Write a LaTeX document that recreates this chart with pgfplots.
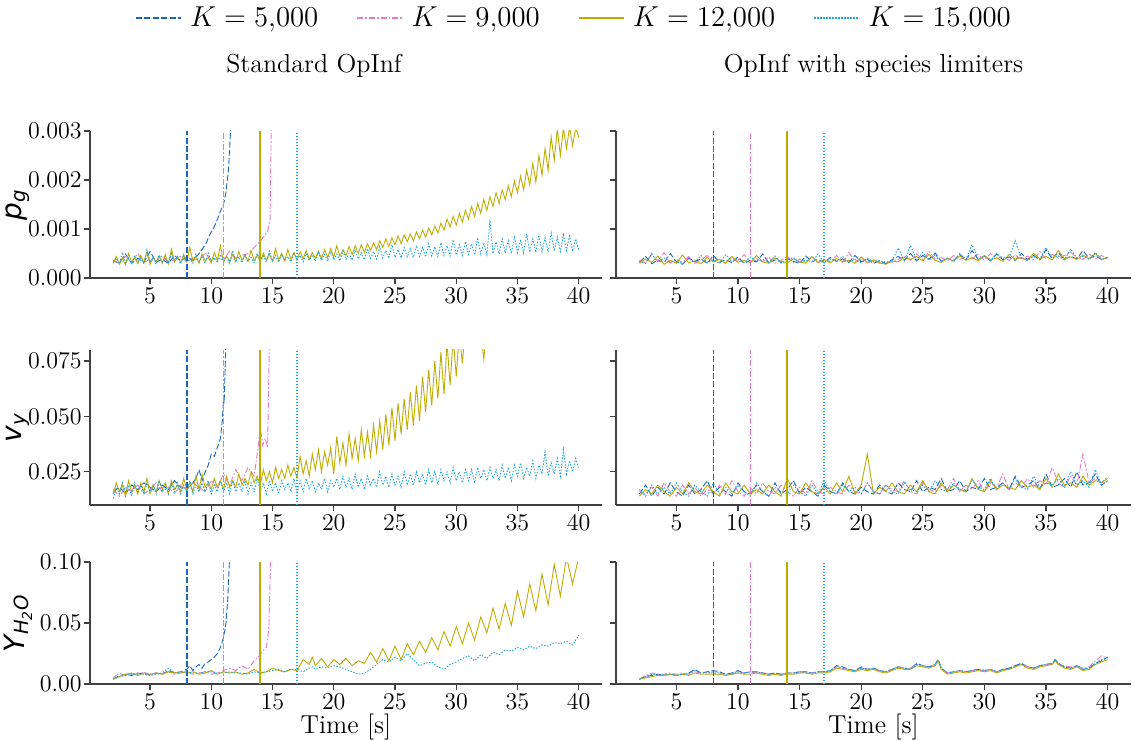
\documentclass[border=0pt]{standalone}
\usepackage{pgfplots}
\pgfplotsset{compat=1.18}
\usepackage{pgfplotstable}
\usepackage{fontspec}
\newfontfamily\dejavu{DejaVu Sans}

\definecolor{cblue}{HTML}{1A66BF}
\definecolor{cpink}{HTML}{E87AC6}
\definecolor{colive}{HTML}{BFAC00}
\definecolor{ccyan}{HTML}{1AA6D6}

% ---- p_g, standard OpInf (o = K 12000, c = K 15000)
\pgfplotstableread{
t o c
2.00 3.0e-4 3.2e-4
2.25 4.4e-4 4.0e-4
2.50 2.8e-4 2.9e-4
2.75 4.0e-4 5.2e-4
3.00 2.7e-4 3.1e-4
3.25 5.0e-4 4.1e-4
3.50 3.2e-4 2.8e-4
3.75 4.1e-4 4.6e-4
4.00 2.9e-4 3.3e-4
4.25 4.6e-4 4.0e-4
4.50 3.1e-4 2.9e-4
4.75 5.4e-4 5.8e-4
5.00 2.8e-4 3.2e-4
5.25 4.2e-4 4.3e-4
5.50 3.3e-4 2.8e-4
5.75 4.5e-4 4.7e-4
6.00 3.0e-4 3.3e-4
6.25 4.8e-4 4.1e-4
6.50 2.9e-4 3.0e-4
6.75 5.9e-4 5.0e-4
7.00 3.3e-4 3.4e-4
7.25 4.3e-4 4.4e-4
7.50 3.1e-4 2.9e-4
7.75 4.6e-4 4.8e-4
8.00 3.2e-4 3.3e-4
8.25 6.3e-4 4.0e-4
8.50 3.4e-4 3.0e-4
8.75 4.4e-4 4.9e-4
9.00 3.0e-4 3.3e-4
9.25 4.9e-4 4.3e-4
9.50 3.5e-4 3.0e-4
9.75 4.2e-4 5.1e-4
10.00 3.1e-4 3.4e-4
10.25 5.2e-4 4.2e-4
10.50 3.6e-4 3.1e-4
10.75 6.6e-4 4.8e-4
11.00 3.2e-4 3.5e-4
11.25 4.5e-4 4.4e-4
11.50 3.4e-4 3.0e-4
11.75 4.8e-4 5.6e-4
12.00 3.3e-4 3.3e-4
12.25 5.4e-4 4.3e-4
12.50 3.6e-4 3.1e-4
12.75 4.6e-4 4.9e-4
13.00 3.4e-4 3.4e-4
13.25 5.6e-4 4.2e-4
13.50 3.5e-4 3.1e-4
13.75 4.7e-4 5.0e-4
14.00 3.3e-4 3.5e-4
14.25 5.1e-4 4.5e-4
14.50 3.6e-4 3.2e-4
14.75 4.9e-4 5.5e-4
15.00 3.4e-4 3.4e-4
15.25 6.0e-4 4.6e-4
15.50 3.7e-4 3.2e-4
15.75 5.0e-4 4.8e-4
16.00 3.5e-4 3.5e-4
16.25 5.8e-4 4.4e-4
16.50 3.8e-4 3.3e-4
16.75 5.2e-4 5.2e-4
17.00 3.6e-4 3.6e-4
17.25 5.4e-4 4.6e-4
17.50 3.9e-4 3.3e-4
17.75 5.6e-4 5.0e-4
18.00 3.8e-4 3.6e-4
18.25 5.2e-4 4.7e-4
18.50 4.0e-4 3.4e-4
18.75 5.5e-4 5.2e-4
19.00 3.9e-4 3.6e-4
19.25 5.8e-4 4.8e-4
19.50 4.1e-4 3.4e-4
19.75 6.0e-4 5.4e-4
20.00 4.2e-4 3.7e-4
20.25 6.6e-4 4.9e-4
20.50 4.4e-4 3.5e-4
20.75 5.8e-4 5.5e-4
21.00 4.6e-4 3.8e-4
21.25 6.4e-4 5.0e-4
21.50 4.8e-4 3.6e-4
21.75 6.6e-4 5.8e-4
22.00 5.0e-4 3.9e-4
22.25 6.8e-4 5.2e-4
22.50 5.2e-4 3.7e-4
22.75 7.0e-4 6.0e-4
23.00 5.6e-4 4.0e-4
23.25 7.2e-4 5.4e-4
23.50 5.8e-4 3.9e-4
23.75 7.6e-4 6.4e-4
24.00 6.2e-4 4.1e-4
24.25 8.0e-4 5.6e-4
24.50 6.4e-4 4.0e-4
24.75 8.2e-4 6.8e-4
25.00 6.8e-4 4.2e-4
25.25 8.6e-4 5.8e-4
25.50 7.0e-4 4.1e-4
25.75 8.8e-4 6.2e-4
26.00 7.4e-4 4.3e-4
26.25 9.0e-4 6.0e-4
26.50 7.6e-4 4.2e-4
26.75 9.4e-4 6.6e-4
27.00 8.0e-4 4.4e-4
27.25 9.8e-4 6.2e-4
27.50 8.3e-4 4.3e-4
27.75 10.2e-4 7.0e-4
28.00 8.8e-4 4.5e-4
28.25 10.6e-4 6.4e-4
28.50 9.2e-4 4.4e-4
28.75 11.2e-4 7.2e-4
29.00 9.8e-4 4.6e-4
29.25 12.0e-4 6.6e-4
29.50 10.4e-4 4.5e-4
29.75 12.6e-4 7.8e-4
30.00 10.8e-4 4.7e-4
30.25 13.2e-4 6.8e-4
30.50 11.4e-4 4.6e-4
30.75 13.8e-4 7.4e-4
31.00 12.0e-4 4.8e-4
31.25 14.6e-4 7.0e-4
31.50 12.6e-4 4.7e-4
31.75 15.2e-4 8.2e-4
32.00 13.2e-4 4.9e-4
32.25 16.0e-4 7.2e-4
32.50 13.8e-4 4.8e-4
32.75 16.6e-4 11.8e-4
33.00 14.6e-4 5.0e-4
33.25 17.4e-4 7.4e-4
33.50 15.2e-4 4.9e-4
33.75 18.0e-4 8.0e-4
34.00 16.0e-4 5.1e-4
34.25 18.8e-4 7.6e-4
34.50 16.6e-4 5.0e-4
34.75 19.8e-4 8.6e-4
35.00 17.4e-4 5.2e-4
35.25 20.8e-4 7.8e-4
35.50 18.0e-4 5.1e-4
35.75 22.0e-4 9.0e-4
36.00 19.0e-4 5.3e-4
36.25 23.4e-4 8.0e-4
36.50 19.6e-4 5.2e-4
36.75 25.0e-4 8.8e-4
37.00 21.0e-4 5.4e-4
37.25 26.4e-4 8.2e-4
37.50 22.0e-4 5.3e-4
37.75 28.8e-4 9.2e-4
38.00 24.0e-4 5.5e-4
38.25 30.4e-4 8.4e-4
38.50 25.0e-4 5.4e-4
38.75 30.6e-4 8.8e-4
39.00 26.4e-4 5.6e-4
39.25 30.8e-4 8.6e-4
39.50 27.0e-4 5.5e-4
39.75 30.6e-4 8.0e-4
40.00 28.8e-4 5.7e-4
}\pgA
\pgfplotstableread{
t y
2.0 3.4e-4
2.5 3.1e-4
3.0 4.9e-4
3.5 3.0e-4
4.0 4.0e-4
4.5 3.2e-4
5.0 5.4e-4
5.5 3.3e-4
6.0 3.8e-4
6.5 3.0e-4
7.0 4.6e-4
7.5 3.5e-4
8.0 4.2e-4
8.5 3.6e-4
9.0 5.0e-4
9.3 6.0e-4
9.6 7.2e-4
9.9 9.0e-4
10.2 10.2e-4
10.5 12.0e-4
10.8 14.0e-4
11.0 15.0e-4
11.2 17.5e-4
11.4 22.0e-4
11.6 31.0e-4
}\pgB
\pgfplotstableread{
t y
2.0 3.6e-4
2.5 3.0e-4
3.0 4.4e-4
3.5 3.3e-4
4.0 5.0e-4
4.5 3.1e-4
5.0 3.9e-4
5.5 3.4e-4
6.0 4.6e-4
6.5 3.2e-4
7.0 3.8e-4
7.5 4.4e-4
8.0 3.3e-4
8.5 4.1e-4
9.0 3.5e-4
9.5 5.2e-4
10.0 3.6e-4
10.5 4.0e-4
11.0 3.7e-4
11.5 5.5e-4
12.0 4.0e-4
12.5 4.6e-4
13.0 5.0e-4
13.5 6.2e-4
14.0 7.5e-4
14.3 8.5e-4
14.6 9.5e-4
14.8 12.0e-4
14.9 31.0e-4
}\pgP
% ---- p_g, species limiters (a=5000, b=9000, c=12000, d=15000)
\pgfplotstableread{
t a b c d
2.0 3.2e-4 3.6e-4 3.0e-4 3.4e-4
2.5 4.4e-4 3.1e-4 3.9e-4 3.0e-4
3.0 2.9e-4 4.8e-4 3.2e-4 5.0e-4
3.5 3.7e-4 3.3e-4 4.5e-4 3.2e-4
4.0 3.1e-4 5.2e-4 2.8e-4 4.1e-4
4.5 5.0e-4 3.0e-4 3.6e-4 3.3e-4
5.0 3.3e-4 3.8e-4 3.0e-4 3.6e-4
5.5 2.8e-4 3.2e-4 4.7e-4 2.9e-4
6.0 4.1e-4 4.4e-4 3.1e-4 3.9e-4
6.5 3.4e-4 3.0e-4 3.5e-4 3.2e-4
7.0 3.9e-4 3.7e-4 2.9e-4 4.6e-4
7.5 3.0e-4 4.6e-4 4.2e-4 3.1e-4
8.0 4.6e-4 3.3e-4 3.3e-4 3.7e-4
8.5 3.2e-4 3.6e-4 3.8e-4 3.0e-4
9.0 3.8e-4 3.1e-4 3.0e-4 4.8e-4
9.5 3.1e-4 4.0e-4 4.4e-4 3.3e-4
10.0 4.3e-4 3.4e-4 3.2e-4 3.9e-4
10.5 3.0e-4 4.8e-4 3.6e-4 3.1e-4
11.0 3.6e-4 3.2e-4 3.1e-4 4.3e-4
11.5 3.3e-4 3.9e-4 4.6e-4 3.4e-4
12.0 4.9e-4 3.3e-4 3.3e-4 3.8e-4
12.5 3.1e-4 4.2e-4 3.0e-4 3.2e-4
13.0 3.7e-4 3.0e-4 4.1e-4 4.5e-4
13.5 3.2e-4 3.6e-4 3.4e-4 3.0e-4
14.0 4.0e-4 4.5e-4 3.1e-4 3.6e-4
14.5 3.4e-4 3.1e-4 3.9e-4 4.2e-4
15.0 3.0e-4 3.8e-4 3.3e-4 3.1e-4
15.5 4.5e-4 3.2e-4 3.0e-4 3.7e-4
16.0 3.3e-4 4.3e-4 4.4e-4 3.3e-4
16.5 3.8e-4 3.1e-4 3.2e-4 4.9e-4
17.0 3.1e-4 3.7e-4 3.7e-4 3.2e-4
17.5 4.2e-4 3.3e-4 3.1e-4 3.9e-4
18.0 3.4e-4 4.6e-4 4.0e-4 3.4e-4
18.5 3.9e-4 3.2e-4 3.3e-4 4.4e-4
19.0 3.2e-4 5.2e-4 3.6e-4 3.2e-4
19.5 4.6e-4 3.4e-4 3.0e-4 3.8e-4
20.0 3.3e-4 3.9e-4 4.3e-4 3.1e-4
20.5 3.8e-4 3.1e-4 3.2e-4 4.0e-4
21.0 3.0e-4 3.6e-4 3.7e-4 3.3e-4
21.5 3.5e-4 3.0e-4 3.1e-4 3.6e-4
22.0 2.9e-4 3.4e-4 2.8e-4 3.0e-4
22.5 3.7e-4 3.2e-4 3.5e-4 3.4e-4
23.0 4.4e-4 3.8e-4 3.3e-4 6.1e-4
23.5 3.6e-4 4.5e-4 4.2e-4 3.5e-4
24.0 5.0e-4 3.6e-4 3.8e-4 6.6e-4
24.5 3.5e-4 4.9e-4 4.4e-4 3.7e-4
25.0 4.6e-4 3.7e-4 3.5e-4 5.2e-4
25.5 3.8e-4 5.4e-4 4.8e-4 3.6e-4
26.0 5.1e-4 3.9e-4 3.6e-4 4.7e-4
26.5 3.4e-4 4.2e-4 3.2e-4 3.5e-4
27.0 4.0e-4 3.5e-4 4.0e-4 4.1e-4
27.5 3.6e-4 4.6e-4 3.5e-4 3.3e-4
28.0 4.8e-4 3.8e-4 4.5e-4 5.0e-4
28.5 3.7e-4 4.3e-4 3.6e-4 3.8e-4
29.0 5.6e-4 3.9e-4 4.2e-4 6.8e-4
29.5 3.8e-4 4.8e-4 3.5e-4 3.9e-4
30.0 4.5e-4 3.6e-4 4.6e-4 4.4e-4
30.5 3.5e-4 5.0e-4 3.7e-4 3.6e-4
31.0 4.9e-4 3.9e-4 4.1e-4 5.0e-4
31.5 3.7e-4 4.4e-4 3.4e-4 3.9e-4
32.0 4.3e-4 3.6e-4 4.8e-4 4.2e-4
32.5 3.6e-4 4.7e-4 3.8e-4 7.6e-4
33.0 5.0e-4 3.8e-4 4.2e-4 4.0e-4
33.5 3.8e-4 4.5e-4 3.6e-4 3.6e-4
34.0 4.6e-4 3.7e-4 5.0e-4 4.4e-4
34.5 3.7e-4 5.4e-4 3.9e-4 3.8e-4
35.0 5.8e-4 3.9e-4 4.4e-4 6.2e-4
35.5 3.9e-4 4.8e-4 3.7e-4 4.0e-4
36.0 5.2e-4 4.0e-4 5.6e-4 4.5e-4
36.5 3.8e-4 4.6e-4 3.9e-4 3.7e-4
37.0 4.4e-4 5.3e-4 4.3e-4 5.9e-4
37.5 3.9e-4 4.1e-4 3.8e-4 4.1e-4
38.0 5.6e-4 3.8e-4 4.7e-4 4.4e-4
38.5 4.0e-4 4.9e-4 3.9e-4 3.8e-4
39.0 4.5e-4 3.9e-4 5.0e-4 5.2e-4
39.5 3.8e-4 4.6e-4 3.7e-4 3.9e-4
40.0 4.2e-4 4.0e-4 4.3e-4 3.9e-4
}\pgR

% ---- v_y, standard OpInf
\pgfplotstableread{
t o c
2.00 0.015 0.013
2.25 0.020 0.018
2.50 0.016 0.015
2.75 0.019 0.020
3.00 0.014 0.016
3.25 0.021 0.019
3.50 0.016 0.014
3.75 0.019 0.020
4.00 0.015 0.016
4.25 0.020 0.019
4.50 0.016 0.015
4.75 0.022 0.020
5.00 0.015 0.016
5.25 0.019 0.019
5.50 0.016 0.015
5.75 0.021 0.021
6.00 0.017 0.016
6.25 0.020 0.019
6.50 0.015 0.015
6.75 0.021 0.020
7.00 0.017 0.016
7.25 0.019 0.020
7.50 0.016 0.015
7.75 0.022 0.019
8.00 0.017 0.016
8.25 0.020 0.021
8.50 0.016 0.015
8.75 0.023 0.019
9.00 0.017 0.016
9.25 0.024 0.020
9.50 0.018 0.016
9.75 0.020 0.021
10.00 0.017 0.015
10.25 0.022 0.019
10.50 0.018 0.016
10.75 0.021 0.021
11.00 0.017 0.016
11.25 0.023 0.020
11.50 0.018 0.015
11.75 0.021 0.021
12.00 0.018 0.016
12.25 0.024 0.020
12.50 0.019 0.016
12.75 0.022 0.021
13.00 0.019 0.015
13.25 0.025 0.020
13.50 0.020 0.016
13.75 0.023 0.022
14.00 0.019 0.016
14.25 0.026 0.020
14.50 0.021 0.015
14.75 0.025 0.021
15.00 0.020 0.016
15.25 0.027 0.020
15.50 0.022 0.015
15.75 0.026 0.021
16.00 0.022 0.017
16.25 0.028 0.020
16.50 0.023 0.016
16.75 0.027 0.022
17.00 0.022 0.015
17.25 0.032 0.021
17.50 0.024 0.016
17.75 0.030 0.022
18.00 0.023 0.017
18.25 0.033 0.021
18.50 0.026 0.016
18.75 0.035 0.020
19.00 0.025 0.017
19.25 0.034 0.022
19.50 0.028 0.016
19.75 0.036 0.021
20.00 0.024 0.018
20.25 0.041 0.022
20.50 0.029 0.017
20.75 0.038 0.023
21.00 0.028 0.018
21.25 0.042 0.022
21.50 0.031 0.017
21.75 0.040 0.024
22.00 0.030 0.018
22.25 0.044 0.022
22.50 0.032 0.017
22.75 0.043 0.023
23.00 0.032 0.019
23.25 0.046 0.022
23.50 0.034 0.018
23.75 0.048 0.025
24.00 0.035 0.019
24.25 0.051 0.023
24.50 0.037 0.018
24.75 0.054 0.024
25.00 0.039 0.019
25.25 0.056 0.023
25.50 0.042 0.018
25.75 0.058 0.025
26.00 0.044 0.019
26.25 0.061 0.024
26.50 0.046 0.019
26.75 0.064 0.025
27.00 0.048 0.020
27.25 0.068 0.024
27.50 0.052 0.019
27.75 0.071 0.026
28.00 0.055 0.020
28.25 0.075 0.025
28.50 0.058 0.019
28.75 0.079 0.026
29.00 0.060 0.021
29.25 0.083 0.025
29.50 0.064 0.020
29.75 0.086 0.027
30.00 0.068 0.021
30.25 0.088 0.025
30.50 0.074 0.020
30.75 0.090 0.026
31.00 0.084 0.021
31.25 0.090 0.026
31.50 0.086 0.020
31.75 0.090 0.027
32.00 0.088 0.022
32.25 0.076 0.026
32.50 0.090 0.021
32.75 0.090 0.027
33.00 0.090 0.022
33.25 0.090 0.026
33.50 0.090 0.021
33.75 0.090 0.028
34.00 0.090 0.022
34.25 0.090 0.027
34.50 0.090 0.021
34.75 0.090 0.028
35.00 0.090 0.023
35.25 0.090 0.029
35.50 0.090 0.022
35.75 0.090 0.027
36.00 0.090 0.023
36.25 0.090 0.030
36.50 0.090 0.022
36.75 0.090 0.028
37.00 0.090 0.024
37.25 0.090 0.034
37.50 0.090 0.023
37.75 0.090 0.029
38.00 0.090 0.024
38.25 0.090 0.031
38.50 0.090 0.023
38.75 0.090 0.035
39.00 0.090 0.024
39.25 0.090 0.030
39.50 0.090 0.025
39.75 0.090 0.031
40.00 0.090 0.026
}\vyA
\pgfplotstableread{
t y
2.0 0.016
2.5 0.018
3.0 0.015
3.5 0.019
4.0 0.017
4.5 0.020
5.0 0.018
5.5 0.016
6.0 0.019
6.5 0.017
7.0 0.021
7.5 0.018
8.0 0.017
8.5 0.020
8.75 0.022
9.0 0.026
9.25 0.021
9.5 0.025
9.75 0.028
10.0 0.033
10.25 0.032
10.5 0.036
10.75 0.040
10.9 0.048
11.0 0.058
11.05 0.056
11.2 0.085
}\vyB
\pgfplotstableread{
t y
2.0 0.017
2.5 0.014
3.0 0.018
3.5 0.016
4.0 0.019
4.5 0.015
5.0 0.017
5.5 0.020
6.0 0.016
6.5 0.018
7.0 0.015
7.5 0.019
8.0 0.017
8.5 0.020
9.0 0.018
9.5 0.016
10.0 0.021
10.5 0.018
11.0 0.024
11.5 0.019
12.0 0.026
12.5 0.021
13.0 0.027
13.5 0.023
13.8 0.035
14.0 0.045
14.2 0.037
14.4 0.040
14.6 0.036
14.75 0.085
}\vyP
% ---- v_y, species limiters
\pgfplotstableread{
t a b c d
2.0 0.015 0.016 0.014 0.017
2.5 0.019 0.015 0.017 0.014
3.0 0.014 0.018 0.015 0.019
3.5 0.018 0.014 0.019 0.015
4.0 0.015 0.020 0.016 0.018
4.5 0.020 0.016 0.014 0.015
5.0 0.016 0.014 0.018 0.020
5.5 0.014 0.019 0.015 0.016
6.0 0.019 0.015 0.020 0.014
6.5 0.015 0.018 0.016 0.019
7.0 0.017 0.014 0.015 0.016
7.5 0.021 0.017 0.019 0.014
8.0 0.015 0.015 0.016 0.020
8.5 0.018 0.019 0.014 0.015
9.0 0.016 0.015 0.020 0.018
9.5 0.014 0.021 0.016 0.015
10.0 0.020 0.016 0.015 0.019
10.5 0.016 0.014 0.019 0.016
11.0 0.015 0.018 0.015 0.014
11.5 0.019 0.015 0.017 0.020
12.0 0.016 0.020 0.015 0.016
12.5 0.014 0.016 0.019 0.014
13.0 0.020 0.015 0.016 0.018
13.5 0.015 0.019 0.014 0.016
14.0 0.017 0.016 0.022 0.015
14.5 0.021 0.014 0.016 0.019
15.0 0.015 0.018 0.015 0.016
15.5 0.018 0.015 0.020 0.014
16.0 0.016 0.021 0.016 0.019
16.5 0.014 0.016 0.015 0.015
17.0 0.019 0.015 0.018 0.021
17.5 0.016 0.018 0.015 0.016
18.0 0.015 0.016 0.020 0.015
18.5 0.020 0.015 0.016 0.019
19.0 0.016 0.019 0.023 0.016
19.5 0.015 0.016 0.015 0.018
20.0 0.018 0.015 0.019 0.015
20.5 0.016 0.020 0.033 0.020
21.0 0.015 0.016 0.015 0.016
21.5 0.019 0.015 0.018 0.015
22.0 0.016 0.019 0.016 0.019
22.5 0.015 0.017 0.020 0.016
23.0 0.020 0.016 0.016 0.015
23.5 0.017 0.021 0.015 0.020
24.0 0.016 0.016 0.019 0.017
24.5 0.021 0.015 0.016 0.016
25.0 0.016 0.020 0.021 0.019
25.5 0.018 0.017 0.016 0.016
26.0 0.017 0.016 0.015 0.021
26.5 0.022 0.019 0.020 0.017
27.0 0.016 0.017 0.016 0.016
27.5 0.017 0.022 0.019 0.020
28.0 0.021 0.016 0.017 0.017
28.5 0.016 0.019 0.016 0.016
29.0 0.018 0.017 0.022 0.021
29.5 0.017 0.021 0.017 0.018
30.0 0.022 0.016 0.016 0.017
30.5 0.017 0.020 0.021 0.022
31.0 0.018 0.018 0.017 0.017
31.5 0.020 0.024 0.019 0.020
32.0 0.017 0.017 0.018 0.017
32.5 0.023 0.020 0.017 0.022
33.0 0.018 0.018 0.021 0.018
33.5 0.019 0.022 0.018 0.017
34.0 0.021 0.018 0.019 0.023
34.5 0.017 0.021 0.017 0.018
35.0 0.024 0.019 0.022 0.020
35.5 0.018 0.027 0.018 0.019
36.0 0.019 0.020 0.024 0.022
36.5 0.022 0.018 0.019 0.018
37.0 0.018 0.023 0.020 0.025
37.5 0.025 0.019 0.018 0.019
38.0 0.019 0.033 0.023 0.021
38.5 0.020 0.020 0.019 0.018
39.0 0.024 0.022 0.021 0.026
39.5 0.019 0.020 0.020 0.019
40.0 0.021 0.023 0.022 0.021
}\vyR

% ---- Y_H2O, standard OpInf
\pgfplotstableread{
t o c
2.0 0.004 0.004
2.5 0.006 0.006
3.0 0.008 0.007
3.5 0.009 0.008
4.0 0.007 0.008
4.5 0.009 0.008
5.0 0.008 0.007
5.5 0.009 0.008
6.0 0.008 0.009
6.5 0.010 0.013
7.0 0.009 0.009
7.5 0.010 0.010
8.0 0.009 0.010
8.5 0.010 0.009
9.0 0.008 0.009
9.5 0.009 0.010
10.0 0.011 0.010
10.5 0.008 0.009
11.0 0.010 0.009
11.5 0.009 0.010
12.0 0.010 0.009
12.5 0.008 0.009
13.0 0.009 0.008
13.5 0.012 0.010
14.0 0.009 0.009
14.5 0.010 0.010
15.0 0.013 0.011
15.5 0.011 0.012
16.0 0.010 0.010
16.5 0.012 0.012
17.0 0.011 0.012
17.5 0.020 0.010
18.0 0.016 0.013
18.25 0.022 0.014
18.5 0.015 0.012
19.0 0.021 0.014
19.5 0.014 0.013
20.0 0.020 0.015
20.5 0.016 0.014
21.0 0.021 0.012
21.5 0.015 0.010
22.0 0.019 0.008
22.5 0.017 0.009
23.0 0.026 0.012
23.5 0.018 0.016
24.0 0.029 0.020
24.5 0.019 0.018
25.0 0.031 0.022
25.5 0.020 0.019
26.0 0.033 0.025
26.5 0.024 0.020
27.0 0.035 0.015
27.5 0.026 0.017
28.0 0.038 0.018
28.5 0.028 0.014
29.0 0.043 0.012
29.5 0.031 0.016
30.0 0.047 0.018
30.5 0.033 0.021
31.0 0.050 0.023
31.5 0.036 0.019
32.0 0.055 0.024
32.5 0.042 0.021
33.0 0.062 0.026
33.5 0.045 0.024
34.0 0.066 0.028
34.5 0.048 0.027
35.0 0.076 0.030
35.5 0.055 0.028
36.0 0.082 0.031
36.5 0.060 0.029
37.0 0.090 0.032
37.5 0.065 0.031
38.0 0.098 0.034
38.5 0.072 0.033
39.0 0.104 0.035
39.5 0.082 0.032
40.0 0.104 0.040
}\yhA
\pgfplotstableread{
t y
2.0 0.004
2.5 0.007
3.0 0.008
3.5 0.007
4.0 0.009
4.5 0.008
5.0 0.008
5.5 0.009
6.0 0.008
6.5 0.011
7.0 0.009
7.5 0.010
8.0 0.012
8.25 0.015
8.5 0.011
8.75 0.014
9.0 0.016
9.25 0.013
9.5 0.017
9.75 0.018
10.0 0.020
10.25 0.022
10.5 0.025
10.75 0.030
11.0 0.038
11.2 0.050
11.35 0.070
11.5 0.105
}\yhB
\pgfplotstableread{
t y
2.0 0.005
2.5 0.009
3.0 0.007
3.5 0.009
4.0 0.008
4.5 0.010
5.0 0.007
5.5 0.009
6.0 0.008
6.5 0.010
7.0 0.008
7.5 0.009
8.0 0.010
8.5 0.008
9.0 0.009
9.5 0.010
10.0 0.008
10.5 0.009
11.0 0.011
11.5 0.013
12.0 0.011
12.5 0.015
13.0 0.012
13.5 0.019
14.0 0.024
14.3 0.028
14.5 0.030
14.7 0.045
14.85 0.105
}\yhP
% ---- Y_H2O, species limiters
\pgfplotstableread{
t a b c d
2.0 0.004 0.004 0.004 0.004
2.5 0.006 0.007 0.005 0.006
3.0 0.007 0.009 0.006 0.008
3.5 0.008 0.008 0.007 0.007
4.0 0.007 0.008 0.007 0.008
4.5 0.008 0.009 0.008 0.008
5.0 0.007 0.008 0.007 0.007
5.5 0.008 0.009 0.008 0.008
6.0 0.009 0.008 0.007 0.008
6.5 0.012 0.010 0.009 0.011
7.0 0.009 0.009 0.008 0.009
7.5 0.010 0.009 0.008 0.009
8.0 0.011 0.009 0.008 0.010
8.5 0.010 0.008 0.008 0.009
9.0 0.008 0.008 0.007 0.008
9.5 0.009 0.008 0.008 0.008
10.0 0.011 0.010 0.009 0.010
10.5 0.009 0.009 0.008 0.009
11.0 0.010 0.009 0.008 0.010
11.5 0.010 0.010 0.009 0.010
12.0 0.009 0.009 0.008 0.009
12.5 0.008 0.008 0.007 0.008
13.0 0.009 0.008 0.008 0.009
13.5 0.008 0.008 0.007 0.008
14.0 0.009 0.009 0.008 0.009
14.5 0.009 0.009 0.008 0.009
15.0 0.010 0.010 0.009 0.010
15.5 0.010 0.009 0.009 0.010
16.0 0.009 0.009 0.008 0.009
16.5 0.010 0.010 0.009 0.010
17.0 0.010 0.010 0.009 0.010
17.5 0.011 0.010 0.010 0.011
18.0 0.015 0.014 0.013 0.015
18.5 0.014 0.013 0.012 0.013
19.0 0.012 0.012 0.011 0.012
19.5 0.011 0.011 0.010 0.011
20.0 0.014 0.013 0.012 0.013
20.5 0.012 0.012 0.011 0.012
21.0 0.013 0.012 0.012 0.013
21.5 0.011 0.011 0.010 0.011
22.0 0.010 0.010 0.009 0.010
22.5 0.012 0.012 0.011 0.012
23.0 0.014 0.014 0.013 0.014
23.5 0.013 0.013 0.012 0.013
24.0 0.012 0.013 0.012 0.012
24.5 0.017 0.016 0.015 0.016
25.0 0.015 0.015 0.014 0.015
25.5 0.014 0.014 0.013 0.014
26.0 0.016 0.015 0.015 0.016
26.25 0.020 0.019 0.019 0.020
26.5 0.013 0.013 0.012 0.013
27.0 0.009 0.009 0.008 0.009
27.5 0.010 0.010 0.009 0.010
28.0 0.011 0.011 0.010 0.011
28.5 0.010 0.010 0.009 0.010
29.0 0.011 0.011 0.010 0.011
29.5 0.012 0.011 0.011 0.012
30.0 0.011 0.011 0.010 0.011
30.5 0.012 0.012 0.011 0.012
31.0 0.010 0.010 0.009 0.010
31.5 0.012 0.012 0.011 0.012
32.0 0.013 0.012 0.012 0.013
32.5 0.015 0.014 0.014 0.015
33.0 0.017 0.016 0.016 0.017
33.5 0.014 0.014 0.013 0.014
34.0 0.013 0.013 0.012 0.013
34.5 0.015 0.015 0.014 0.015
35.0 0.016 0.016 0.015 0.016
35.5 0.017 0.016 0.016 0.017
35.75 0.020 0.019 0.019 0.020
36.0 0.017 0.016 0.016 0.017
36.5 0.014 0.015 0.013 0.014
37.0 0.013 0.014 0.012 0.013
37.5 0.015 0.015 0.014 0.015
38.0 0.012 0.013 0.011 0.012
38.5 0.013 0.014 0.012 0.013
39.0 0.017 0.019 0.016 0.017
39.5 0.019 0.023 0.018 0.020
40.0 0.022 0.021 0.020 0.022
}\yhR

\pgfplotsset{
  panel/.style={scale only axis, xmin=0.1, xmax=41.9,
    axis x line*=bottom, axis y line*=left,
    axis line style={black!75, line width=0.6pt},
    major tick style={black!75, line width=0.6pt}, major tick length=3pt,
    tick align=outside, xtick={5,10,...,40}, scaled y ticks=false,
    ticklabel style={font=\fontsize{12}{13}\selectfont},
    yticklabel style={inner xsep=1pt},
    xticklabel style={inner ysep=0.5pt, yshift=-1.5pt},
    every axis y label/.style={at={(axis description cs:0,0.5)}, xshift=-36pt, rotate=90, anchor=center, font=\fontsize{14}{15}\selectfont\dejavu\itshape},
    xlabel style={at={(axis description cs:0.5,0)}, anchor=center, yshift=-21.5pt, inner sep=0pt, font=\fontsize{13}{14}\selectfont},
    title style={at={(0.5,1)}, anchor=center, yshift=26.5pt, font=\fontsize{13}{14}\selectfont},
    every axis plot/.append style={line width=0.45pt}},
  noylab/.style={yticklabels={,,,,}},
  sK5/.style={cblue, dash pattern=on 3pt off 1.2pt},
  sK9/.style={cpink, dash pattern=on 3pt off 1pt on 0.8pt off 1pt},
  sK12/.style={colive},
  sK15/.style={ccyan, dash pattern=on 0.7pt off 0.8pt},
  vl/.style={line width=0.8pt},
}

\begin{document}
\begin{tikzpicture}
\useasboundingbox (0,0) rectangle (567.5pt,370pt);

% row 1
\begin{axis}[panel, at={(45pt,231pt)}, anchor=south west, width=256pt, height=73.5pt,
  ymin=0, ymax=0.003, ytick={0,0.001,0.002,0.003}, yticklabels={0.000,0.001,0.002,0.003},
  ylabel={p\textsubscript{g}}, title={Standard OpInf}, title style={xshift=-16pt},
  legend columns=4,
  legend style={at={(0.947,1.77)}, anchor=center, draw=none, fill=none,
    font=\fontsize{15}{16}\selectfont,
    /tikz/every odd column/.append style={column sep=2pt},
    /tikz/every even column/.append style={column sep=17pt}},
  legend image code/.code={\draw[#1] (0pt,0pt) -- (22.5pt,0pt);}]
\addlegendimage{sK5, line width=1.1pt}\addlegendentry{$K=5{,}000$}
\addlegendimage{sK9, line width=1.1pt}\addlegendentry{$K=9{,}000$}
\addlegendimage{sK12, line width=1.1pt}\addlegendentry{$K=12{,}000$}
\addlegendimage{sK15, line width=1.1pt}\addlegendentry{$K=15{,}000$}
\addplot[sK5, forget plot] table[x=t, y=y] {\pgB};
\addplot[sK9, forget plot] table[x=t, y=y] {\pgP};
\addplot[sK12, forget plot] table[x=t, y=o] {\pgA};
\addplot[sK15, forget plot] table[x=t, y=c] {\pgA};
\addplot[sK5, vl, forget plot] coordinates {(8,0) (8,0.003)};
\addplot[sK9, vl, forget plot] coordinates {(11,0) (11,0.003)};
\addplot[sK12, vl, forget plot] coordinates {(14,0) (14,0.003)};
\addplot[sK15, vl, forget plot] coordinates {(17,0) (17,0.003)};
\end{axis}

\begin{axis}[panel, noylab, at={(308pt,231pt)}, anchor=south west, width=257.5pt, height=73.5pt,
  ymin=0, ymax=0.003, ytick={0,0.001,0.002,0.003},
  title={OpInf with species limiters}]
\addplot[sK5] table[x=t, y=a] {\pgR};
\addplot[sK9] table[x=t, y=b] {\pgR};
\addplot[sK12] table[x=t, y=c] {\pgR};
\addplot[sK15] table[x=t, y=d] {\pgR};
\addplot[sK5, vl] coordinates {(8,0) (8,0.003)};
\addplot[sK9, vl] coordinates {(11,0) (11,0.003)};
\addplot[sK12, vl] coordinates {(14,0) (14,0.003)};
\addplot[sK15, vl] coordinates {(17,0) (17,0.003)};
\end{axis}

% row 2
\begin{axis}[panel, at={(45pt,117.5pt)}, anchor=south west, width=256pt, height=77.5pt,
  ymin=0.01, ymax=0.08, ytick={0.025,0.05,0.075}, yticklabels={0.025,0.050,0.075},
  ylabel={v\textsubscript{y}}]
\addplot[sK5] table[x=t, y=y] {\vyB};
\addplot[sK9] table[x=t, y=y] {\vyP};
\addplot[sK12] table[x=t, y=o] {\vyA};
\addplot[sK15] table[x=t, y=c] {\vyA};
\addplot[sK5, vl] coordinates {(8,0.01) (8,0.08)};
\addplot[sK9, vl] coordinates {(11,0.01) (11,0.08)};
\addplot[sK12, vl] coordinates {(14,0.01) (14,0.08)};
\addplot[sK15, vl] coordinates {(17,0.01) (17,0.08)};
\end{axis}

\begin{axis}[panel, noylab, at={(308pt,117.5pt)}, anchor=south west, width=257.5pt, height=77.5pt,
  ymin=0.01, ymax=0.08, ytick={0.025,0.05,0.075}]
\addplot[sK5] table[x=t, y=a] {\vyR};
\addplot[sK9] table[x=t, y=b] {\vyR};
\addplot[sK12] table[x=t, y=c] {\vyR};
\addplot[sK15] table[x=t, y=d] {\vyR};
\addplot[sK5, vl] coordinates {(8,0.01) (8,0.08)};
\addplot[sK9, vl] coordinates {(11,0.01) (11,0.08)};
\addplot[sK12, vl] coordinates {(14,0.01) (14,0.08)};
\addplot[sK15, vl] coordinates {(17,0.01) (17,0.08)};
\end{axis}

% row 3
\begin{axis}[panel, at={(45pt,28pt)}, anchor=south west, width=256pt, height=61pt,
  ymin=0, ymax=0.1, ytick={0,0.05,0.1}, yticklabels={0.00,0.05,0.10},
  ylabel={Y\textsubscript{H\textsubscript{2}O}}, xlabel={Time [s]}]
\addplot[sK5] table[x=t, y=y] {\yhB};
\addplot[sK9] table[x=t, y=y] {\yhP};
\addplot[sK12] table[x=t, y=o] {\yhA};
\addplot[sK15] table[x=t, y=c] {\yhA};
\addplot[sK5, vl] coordinates {(8,0) (8,0.1)};
\addplot[sK9, vl] coordinates {(11,0) (11,0.1)};
\addplot[sK12, vl] coordinates {(14,0) (14,0.1)};
\addplot[sK15, vl] coordinates {(17,0) (17,0.1)};
\end{axis}

\begin{axis}[panel, noylab, at={(308pt,28pt)}, anchor=south west, width=257.5pt, height=61pt,
  ymin=0, ymax=0.1, ytick={0,0.05,0.1}, xlabel={Time [s]}]
\addplot[sK5] table[x=t, y=a] {\yhR};
\addplot[sK9] table[x=t, y=b] {\yhR};
\addplot[sK12] table[x=t, y=c] {\yhR};
\addplot[sK15] table[x=t, y=d] {\yhR};
\addplot[sK5, vl] coordinates {(8,0) (8,0.1)};
\addplot[sK9, vl] coordinates {(11,0) (11,0.1)};
\addplot[sK12, vl] coordinates {(14,0) (14,0.1)};
\addplot[sK15, vl] coordinates {(17,0) (17,0.1)};
\end{axis}
\end{tikzpicture}
\end{document}
